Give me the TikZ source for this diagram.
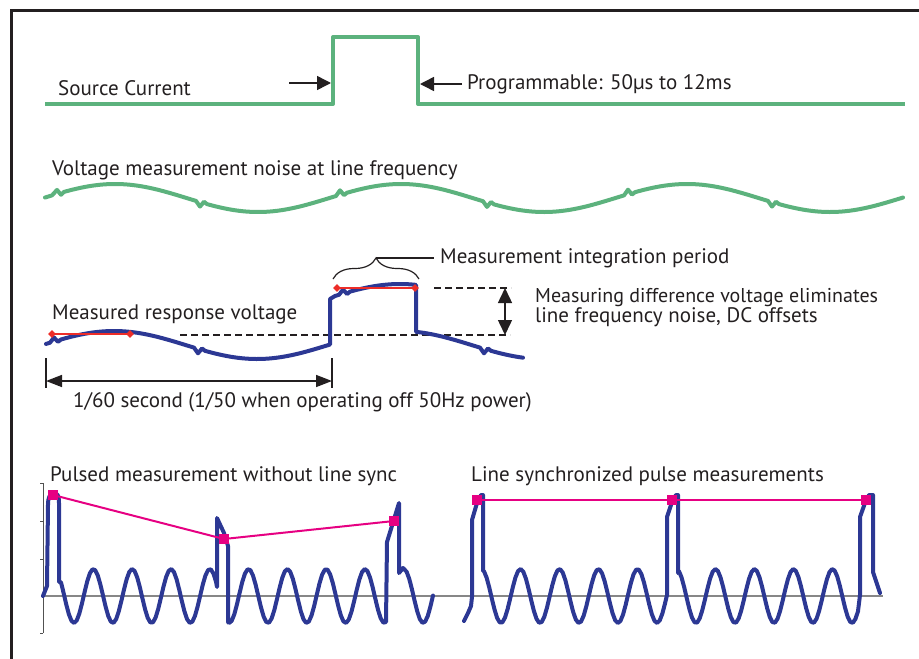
\documentclass[tikz,border=0pt]{standalone}
\usepackage{fontspec}
\setmainfont{PT Sans}
\usetikzlibrary{arrows.meta,decorations.pathreplacing,shapes.geometric}
\definecolor{grn}{RGB}{92,178,125}
\definecolor{blu}{RGB}{44,56,148}
\definecolor{redl}{RGB}{237,45,40}
\definecolor{mag}{RGB}{230,0,130}
\definecolor{txt}{RGB}{35,31,32}
\definecolor{axg}{RGB}{135,135,135}
\tikzset{
  lbl/.style={anchor=base west, inner sep=0pt, text=txt, font=\fontsize{21}{25}\selectfont},
  gwave/.style={draw=grn, line width=4pt, line join=round, line cap=round},
  bwave/.style={draw=blu, line width=4pt, line join=round, line cap=round},
  redln/.style={draw=redl, line width=2pt},
  magln/.style={draw=mag, line width=2pt},
  arrowln/.style={draw=txt, line width=1.5pt, -{Triangle[length=14pt,width=14pt]}},
  dblarrow/.style={draw=txt, line width=1.5pt, {Triangle[length=15pt,width=14pt]}-{Triangle[length=15pt,width=14pt]}},
  dimarrow/.style={draw=txt, line width=1.5pt, {Triangle[length=16pt,width=12pt]}-{Triangle[length=16pt,width=12pt]}},
  thinln/.style={draw=txt, line width=1.2pt},
  dashln/.style={draw=txt, line width=1.2pt, dash pattern=on 7pt off 4pt},
  msq/.style={fill=mag, minimum size=10pt, inner sep=0pt, draw=none, rectangle},
  rdia/.style={fill=redl, diamond, minimum size=8pt, inner sep=0pt, draw=none},
  declare function={
    fg(\x)=198-14*cos((\x-115)*1.25874);
    fb(\x)=345-14*cos((\x-114)*1.25874);
    sl(\x)=596+27*cos((\x-74)*9.27835);
    sr(\x)=596+27*cos((\x-501)*9.23077);
  }
}
\begin{document}
\begin{tikzpicture}[x=1pt,y=-1pt]
\useasboundingbox (0,0) rectangle (919,659);
% frame
\draw[draw=txt, line width=3pt] (11.3,670) -- (11.3,10.7) -- (930,10.7);

% ---------- Source current ----------
\draw[gwave, line cap=butt] (45,104) -- (333,104) -- (333,37) -- (418,37) -- (418,104) -- (905,104);
\node[lbl] (src) at (58,95) {Source Current};
\node[lbl] (prog) at (467,89) {Programmable: 50µs to 12ms};
\coordinate (a1s) at (289,83);
\coordinate (a1e) at (331,83);
\coordinate (a2s) at (462,84);
\coordinate (a2e) at (420,84);
\draw[arrowln] (a1s) -- (a1e);
\draw[arrowln] (a2s) -- (a2e);

% ---------- Noise ----------
\node[lbl] (noise) at (52,175) {Voltage measurement noise at line frequency};
\draw[gwave] plot[domain=45:52,samples=4] (\x,{fg(\x)})
  -- (57,{fg(57)-4}) -- (61,{fg(61)+2})
  -- plot[domain=64:196,samples=45] (\x,{fg(\x)})
  -- (200,{fg(200)+4.5}) -- (204,{fg(204)-1.5})
  -- plot[domain=207:336,samples=45] (\x,{fg(\x)})
  -- (340,{fg(340)-4.5}) -- (344,{fg(344)+1.5})
  -- plot[domain=347:483,samples=45] (\x,{fg(\x)})
  -- (487,{fg(487)+4.5}) -- (491,{fg(491)-1.5})
  -- plot[domain=494:624,samples=45] (\x,{fg(\x)})
  -- (628,{fg(628)-4.5}) -- (632,{fg(632)+1.5})
  -- plot[domain=635:768,samples=45] (\x,{fg(\x)})
  -- (772,{fg(772)+4.5}) -- (776,{fg(776)-1.5})
  -- plot[domain=779:903,samples=45] (\x,{fg(\x)});

% ---------- Measured response ----------
\node[lbl] (mrv) at (52,319) {Measured response voltage};
\node[lbl] (mip) at (440,263) {Measurement integration period};
\node[lbl, font=\fontsize{20}{24}\selectfont] (mdv1) at (535,302) {Measuring difference voltage eliminates};
\node[lbl] (mdv2) at (535,322) {line frequency noise, DC offsets};
\node[lbl] (sec) at (73,407) {1/60 second (1/50 when operating off 50Hz power)};

\draw[dashln] (180,335) -- (510,335);
\draw[dashln] (434,288) -- (511,288);

\draw[bwave] plot[domain=46:50,samples=3] (\x,{fb(\x)})
  -- (54,{fb(54)-4}) -- (58,{fb(58)+1.5})
  -- plot[domain=61:194,samples=45] (\x,{fb(\x)})
  -- (198,{fb(198)+4.5}) -- (202,{fb(202)-1.5})
  -- plot[domain=205:330,samples=40] (\x,{fb(\x)})
  -- (330,299)
  -- plot[domain=335:339,samples=2] (\x,{fb(\x)-47})
  -- (343,{fb(343)-51}) -- (347,{fb(347)-45.5})
  -- plot[domain=350:416,samples=25] (\x,{fb(\x)-47})
  -- (416,{fb(416)})
  -- plot[domain=418:480,samples=20] (\x,{fb(\x)})
  -- (484,{fb(484)+4.5}) -- (488,{fb(488)-1.5})
  -- plot[domain=491:523,samples=10] (\x,{fb(\x)});

\node[rdia] (d1) at (52,334) {};
\node[rdia] (d2) at (130,334) {};
\node[rdia] (d3) at (337,288) {};
\node[rdia] (d4) at (415,288) {};
\draw[redln] (d1.center) -- (d2.center);
\draw[redln] (d3.center) -- (d4.center);

\coordinate (bl) at (333,279);
\coordinate (br) at (419,279);
\draw[thinln, decorate, decoration={brace, amplitude=21pt}] (bl) -- (br);
\coordinate (btip) at (376,258);
\coordinate (bend) at (434,258);
\draw[thinln] (btip) -- (bend);

\coordinate (dvt) at (505,288);
\coordinate (dvb) at (505,335);
\draw[dblarrow] (dvt) -- (dvb);

\coordinate (t1a) at (46,358);
\coordinate (t1b) at (46,388);
\coordinate (t2a) at (332,358);
\coordinate (t2b) at (332,388);
\draw[thinln] (t1a) -- (t1b);
\draw[thinln] (t2a) -- (t2b);
\coordinate (dl) at (46,381);
\coordinate (dr) at (332,381);
\draw[dimarrow] (dl) -- (dr);

% ---------- Pulsed measurements ----------
\node[lbl] (pml) at (50,481) {Pulsed measurement without line sync};
\node[lbl] (lsp) at (471,481) {Line synchronized pulse measurements};

\draw[draw=axg, line width=2pt] (43,596) -- (883,596);
\draw[draw=axg!60!black, line width=1pt] (43,483) -- (43,633);
\foreach \ty in {483,521,559,633} \draw[draw=axg!60!black, line width=1pt] (40,\ty) -- (43,\ty);

\draw[bwave] (43,596) -- (47,586) -- (48,505) .. controls (48,497) and (50,494) .. (53,494)
  -- (56,494) .. controls (58,494) and (59,497) .. (59,503) -- (59,582)
  -- plot[domain=61:216,samples=60] (\x,{sl(\x)})
  -- (217,587) -- (217,518) -- (224,533) -- (228,546) -- (228,622)
  -- plot[domain=229:386,samples=60] (\x,{sl(\x)})
  -- (387,542) -- (399,503) -- (399,573) -- (403,568)
  -- plot[domain=404:433,samples=12] (\x,{sl(\x)});

\draw[bwave] (464,621) -- (468,613) -- (471,606) -- (472,597) -- (472,520) -- (477,503) -- (481,495) -- (483,495) -- (483,571)
  -- plot[domain=484:665,samples=70] (\x,{sr(\x)})
  -- (667,595) -- (667,517) -- (672,502) -- (676,495) -- (678,495) -- (678,573)
  -- plot[domain=679:858,samples=70] (\x,{sr(\x)})
  -- (860,595) -- (860,517) -- (865,503) -- (869,495) -- (873,495) -- (873,572) -- (880,593);

\node[msq] (m1) at (53,495) {};
\node[msq] (m2) at (224,539) {};
\node[msq] (m3) at (394,521) {};
\draw[magln] (m1.center) -- (m2.center) -- (m3.center);
\node[msq] (n1) at (477,500) {};
\node[msq] (n2) at (672,500) {};
\node[msq] (n3) at (866,500) {};
\draw[magln] (n1.center) -- (n2.center) -- (n3.center);
\end{tikzpicture}
\end{document}
